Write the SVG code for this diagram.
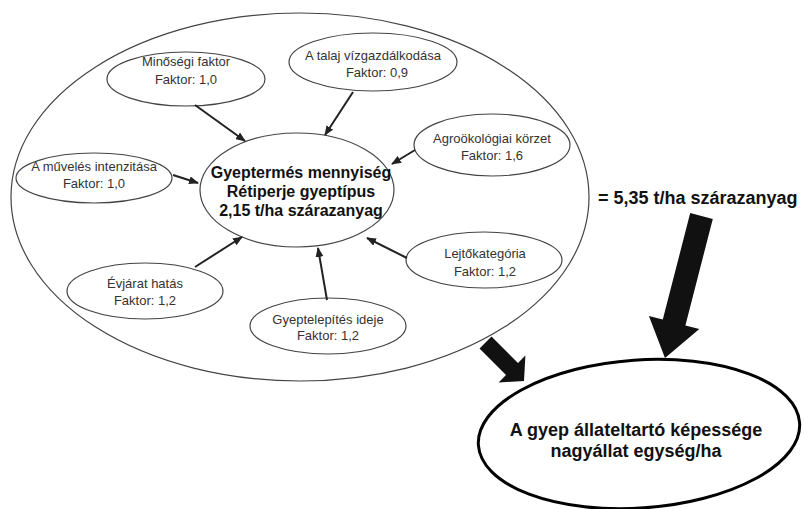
<svg xmlns="http://www.w3.org/2000/svg" width="804" height="509" viewBox="0 0 804 509">
<defs>
<style>
.bg{fill:#ffffff}
.outer{fill:none;stroke:#444;stroke-width:1.2}
.node{fill:#ffffff;stroke:#444;stroke-width:1.2}
.big{fill:#ffffff;stroke:#000;stroke-width:3}
.lbl{font-family:"Liberation Sans",Arial,sans-serif;font-size:13px;fill:#333;text-anchor:middle}
.bold{font-family:"Liberation Sans",Arial,sans-serif;font-weight:bold;fill:#111;text-anchor:middle}
.conn line{stroke:#222;stroke-width:2;marker-end:url(#ah)}
.thick{fill:#111;stroke:none}
</style>
<marker id="ah" markerUnits="userSpaceOnUse" markerWidth="10" markerHeight="8" refX="9" refY="4" orient="auto">
<path d="M0,0 L10,4 L0,8 z" fill="#222"/>
</marker>
</defs>
<rect class="bg" x="0" y="0" width="804" height="509"/>
<g id="outer-group">
<ellipse class="outer" cx="300" cy="197" rx="289" ry="184"/>
</g>
<g id="center">
<ellipse class="node" cx="297" cy="190" rx="97" ry="57"/>
<text class="bold" font-size="16" x="301" y="178">Gyeptermés mennyiség</text>
<text class="bold" font-size="16" x="301" y="197">Rétiperje gyeptípus</text>
<text class="bold" font-size="16" x="301" y="216">2,15 t/ha szárazanyag</text>
</g>
<g id="minosegi">
<ellipse class="node" cx="186" cy="79" rx="79" ry="27"/>
<text class="lbl" x="186" y="66">Minőségi faktor</text>
<text class="lbl" x="186" y="84">Faktor: 1,0</text>
</g>
<g id="talaj">
<ellipse class="node" cx="373" cy="62" rx="84" ry="29"/>
<text class="lbl" x="373" y="60">A talaj vízgazdálkodása</text>
<text class="lbl" x="377" y="77">Faktor: 0,9</text>
</g>
<g id="agro">
<ellipse class="node" cx="492" cy="145" rx="78" ry="31"/>
<text class="lbl" x="492" y="143">Agroökológiai körzet</text>
<text class="lbl" x="492" y="160">Faktor: 1,6</text>
</g>
<g id="muveles">
<ellipse class="node" cx="94" cy="178" rx="78" ry="25"/>
<text class="lbl" x="94" y="171">A művelés intenzitása</text>
<text class="lbl" x="94" y="188">Faktor: 1,0</text>
</g>
<g id="lejto">
<ellipse class="node" cx="484" cy="260" rx="78" ry="28"/>
<text class="lbl" x="485" y="258">Lejtőkategória</text>
<text class="lbl" x="485" y="276">Faktor: 1,2</text>
</g>
<g id="evjarat">
<ellipse class="node" cx="145" cy="291" rx="78" ry="28"/>
<text class="lbl" x="145" y="288">Évjárat hatás</text>
<text class="lbl" x="145" y="305">Faktor: 1,2</text>
</g>
<g id="gyeptelepites">
<ellipse class="node" cx="328" cy="326" rx="78" ry="28"/>
<text class="lbl" x="328" y="324">Gyeptelepítés ideje</text>
<text class="lbl" x="328" y="340">Faktor: 1,2</text>
</g>
<g id="result-label">
<text class="bold" font-size="18" x="598" y="204" text-anchor="start" style="text-anchor:start">= 5,35 t/ha szárazanyag</text>
</g>
<g id="capacity">
<ellipse class="big" cx="639" cy="434" rx="161" ry="74" transform="rotate(-4 639 434)"/>
<text class="bold" font-size="18" x="636" y="436">A gyep állateltartó képessége</text>
<text class="bold" font-size="18" x="636" y="457">nagyállat egység/ha</text>
</g>
<g id="connectors" class="conn">
<line x1="195" y1="105" x2="245" y2="141"/>
<line x1="353" y1="92" x2="325" y2="135"/>
<line x1="415" y1="150" x2="392" y2="164"/>
<line x1="173" y1="175" x2="198" y2="183"/>
<line x1="195" y1="267" x2="242" y2="237"/>
<line x1="327" y1="300" x2="318" y2="248"/>
<line x1="407" y1="258" x2="367" y2="238"/>
<polygon class="thick" points="479.5,348.5 491.5,336.5 518,363 525.4,355.6 524,381 498.6,382.4 506,375"/>
<polygon class="thick" points="690.2,213.1 712.8,218.9 685.4,325.4 699.3,329 665,358 648.9,316 662.8,319.6"/>
</g>
</svg>
